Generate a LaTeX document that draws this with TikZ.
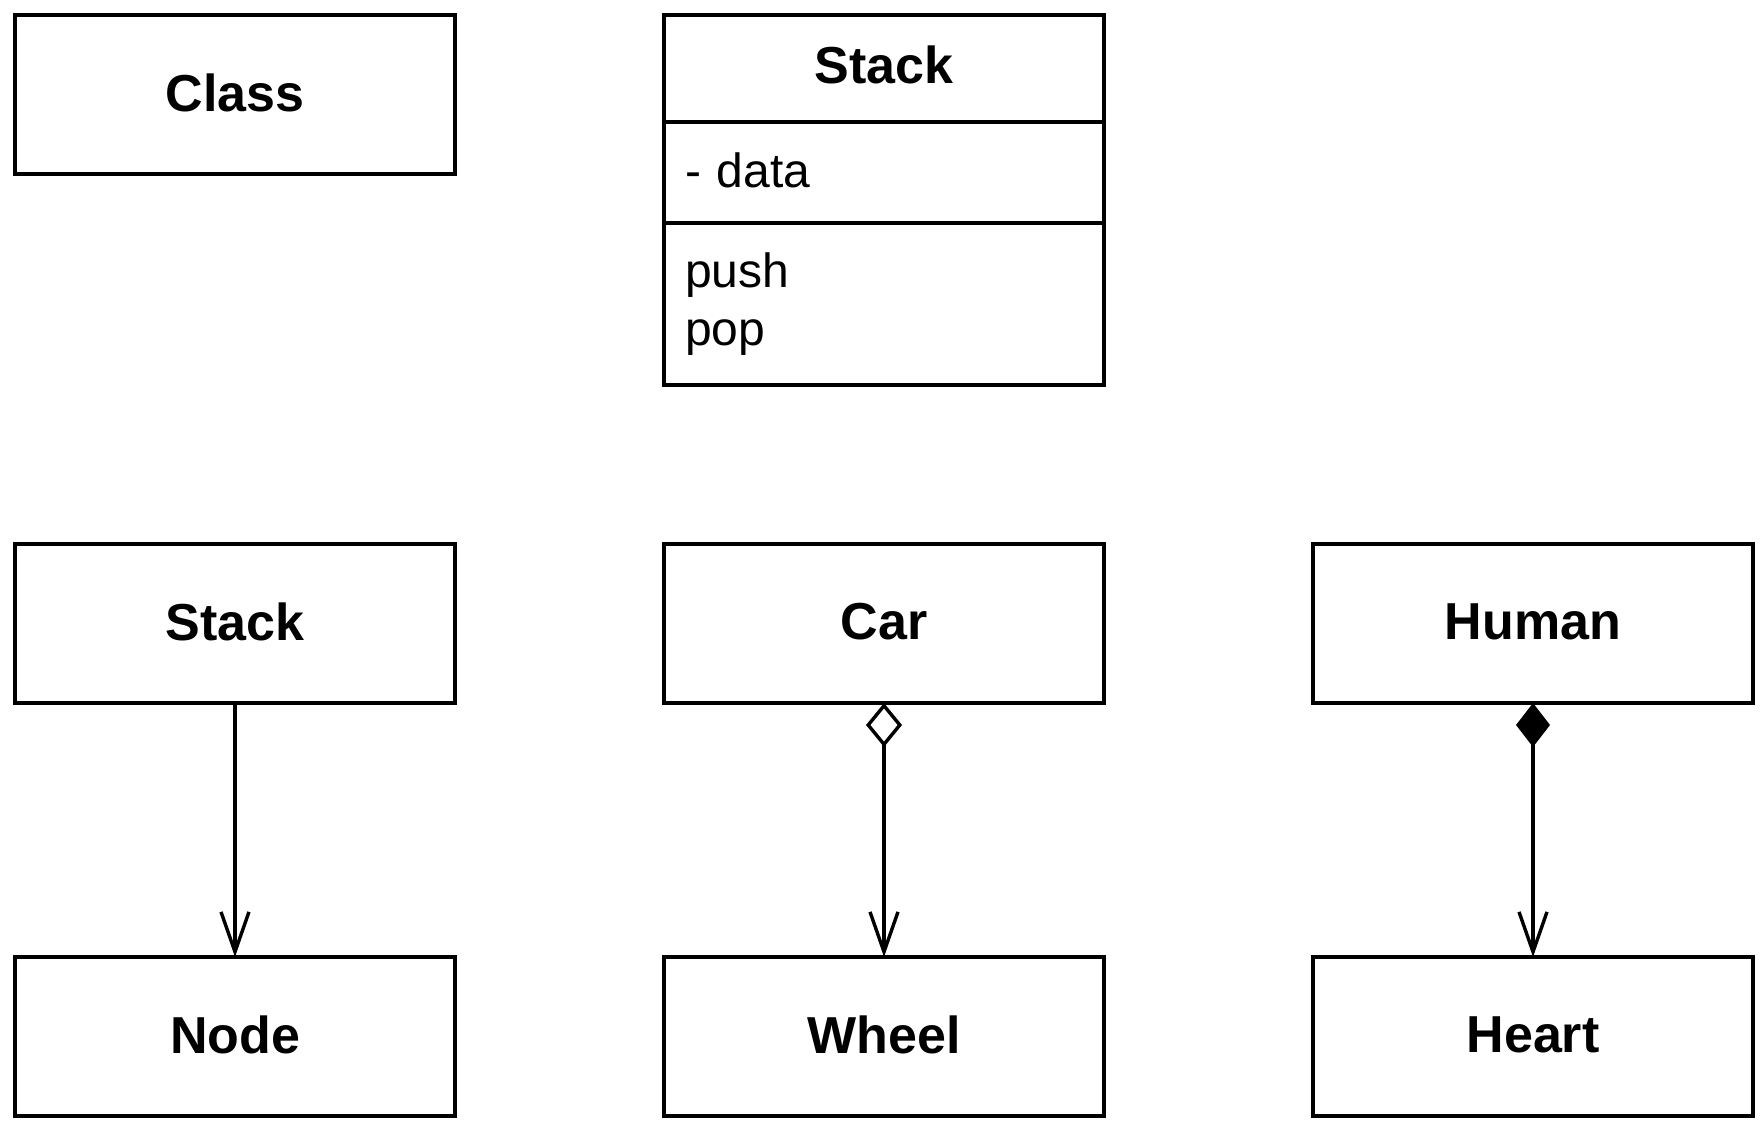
\documentclass[tikz,border=0pt]{standalone}
\usepackage{fontspec}
\setmainfont{Liberation Sans}
\usepackage{tikz}
\usetikzlibrary{positioning, arrows.meta}
\tikzset{
node distance=92.5pt and 52.25pt, % vertical and horizontal gaps between the boxes
every node/.style={outer sep=0pt}, % lets the boxes of one class share their border lines
classbox/.style={draw, line width=1pt, minimum width=110pt, minimum height=39.75pt, text depth=1.1pt, font=\bfseries\fontsize{13}{15.6}\selectfont}, % a class that shows only its name
membox/.style={draw, line width=1pt, text width=99.5pt, inner xsep=5.25pt, align=left, font=\fontsize{12}{14.5}\selectfont}, % the attributes and operations of a class
link/.style={line width=0.85pt}, % the connectors
association/.style={link, -{Straight Barb[length=10pt, width=7pt]}},
aggregation/.style={link, {Diamond[open, length=11pt, width=9pt]}-{Straight Barb[length=10pt, width=7pt]}},
composition/.style={link, {Diamond[length=11pt, width=8.5pt]}-{Straight Barb[length=10pt, width=7pt]}},
}

\begin{document}
\begin{tikzpicture}
\useasboundingbox (-3.75pt,3.75pt) rectangle (437.25pt,-277.25pt);
% top row
\node[classbox, anchor=north west] (cls) at (0,0) {Class};
\node[classbox, minimum height=26.75pt, right=of cls.north east, anchor=north west, text height=9.3pt, text depth=2pt] (stk) {Stack};
\node[membox, minimum height=25.25pt, below=0pt of stk, text height=8.6pt, text depth=1.3pt] (stkattr) {- data};
\node[membox, minimum height=40.5pt, below=0pt of stkattr] (stkops) {push\\pop};
% relations
\node[classbox, below=of cls] (stack) {Stack};
\node[classbox, right=of stack] (car) {Car};
\node[classbox, right=of car] (human) {Human};
\node[classbox, below=63.5pt of stack] (nd) {Node};
\node[classbox, below=63.5pt of car] (wheel) {Wheel};
\node[classbox, below=63.5pt of human] (heart) {Heart};
\draw[association] (stack) -- (nd);
\draw[aggregation] (car) -- (wheel);
\draw[composition] (human) -- (heart);
\end{tikzpicture}
\end{document}
